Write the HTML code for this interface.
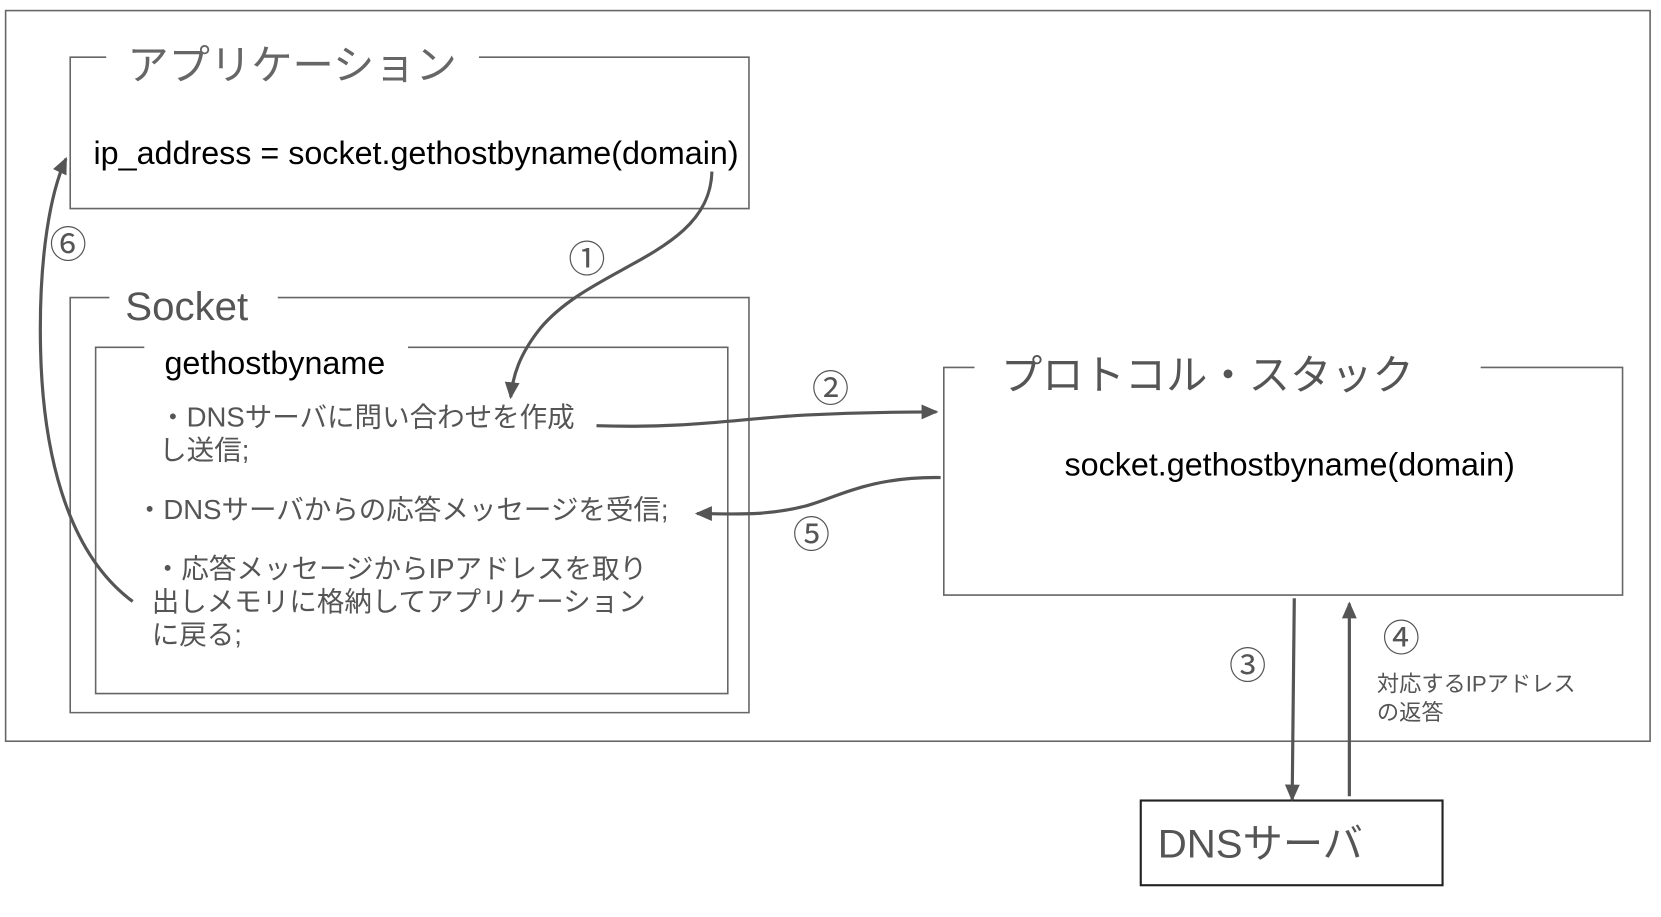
<!DOCTYPE html>
<html><head><meta charset="utf-8"><style>
html,body{margin:0;padding:0;background:#fff;}
svg{display:block;}
text{font-family:"Liberation Sans","Noto Sans CJK JP",sans-serif;}
</style></head><body>
<svg width="1661" height="917" viewBox="0 0 1568 866" xmlns="http://www.w3.org/2000/svg">
<defs>
<marker id="b" markerWidth="16" markerHeight="16" refX="14" refY="8" orient="auto" markerUnits="userSpaceOnUse" viewBox="0 0 16 16"><path d="M0,1 L16,8 L0,15 z" fill="#555"/></marker></defs>
<rect x="5" y="10" width="1553" height="690" fill="none" stroke="#666" stroke-width="1.5"/>
<path d="M100,54 H66 V197 H707 V54 H452" fill="none" stroke="#666" stroke-width="1.5"/>
<text x="120" y="75" font-size="39" fill="#666">アプリケーション</text>
<text x="88" y="155" font-size="30.5" fill="#000">ip_address = socket.gethostbyname(domain)</text>
<path d="M103,281 H66 V673 H707 V281 H262" fill="none" stroke="#666" stroke-width="1.5"/>
<text x="118" y="302" font-size="38" fill="#555">Socket</text>
<path d="M136,328 H90 V655 H687 V328 H385" fill="none" stroke="#666" stroke-width="1.5"/>
<text x="155" y="353" font-size="30.5" fill="#000">gethostbyname</text>
<g font-size="26" fill="#555">
<text x="150" y="403">・DNSサーバに問い合わせを作成</text>
<text x="150" y="434">し送信;</text>
<text x="128" y="490">・DNSサーバからの応答メッセージを受信;</text>
<text x="145" y="546">・応答メッセージからIPアドレスを取り</text>
<text x="143" y="577">出しメモリに格納してアプリケーション</text>
<text x="143" y="608">に戻る;</text>
</g>
<path d="M920,347 H891 V562 H1532 V347 H1398" fill="none" stroke="#666" stroke-width="1.5"/>
<text x="945" y="368" font-size="39" fill="#555">プロトコル・スタック</text>
<text x="1005" y="449" font-size="30.5" fill="#000">socket.gethostbyname(domain)</text>
<rect x="1077" y="756" width="285" height="80" fill="none" stroke="#222" stroke-width="2"/>
<text x="1093" y="810" font-size="38" fill="#555">DNSサーバ</text>
<g fill="none" stroke="#555" stroke-width="3">
<path d="M672,162 C670,240 560,250 510,310 C490,335 484,355 482,375" marker-end="url(#b)"/>
<path d="M563,402 C650,405 700,395 760,392 C800,390 840,389 884,389" marker-end="url(#b)"/>
<path d="M888,451 C820,450 790,470 760,478 C720,488 690,485 658,485" marker-end="url(#b)"/>
<path d="M125,568 C60,520 40,420 38,330 C36,240 48,180 62,150" marker-end="url(#b)"/>
<path d="M1222,565 L1220,755" marker-end="url(#b)"/>
<path d="M1274,752 L1274,570" marker-end="url(#b)"/>
</g>
<g font-size="35" fill="#555" text-anchor="middle">
<text x="554" y="257">①</text>
<text x="784" y="379">②</text>
<text x="766" y="517">⑤</text>
<text x="64" y="243">⑥</text>
<text x="1178" y="641">③</text>
<text x="1323" y="615">④</text>
</g>
<text x="1300" y="653" font-size="21" fill="#555">対応するIPアドレス</text>
<text x="1300" y="680" font-size="21" fill="#555">の返答</text>
</svg>
</body></html>
